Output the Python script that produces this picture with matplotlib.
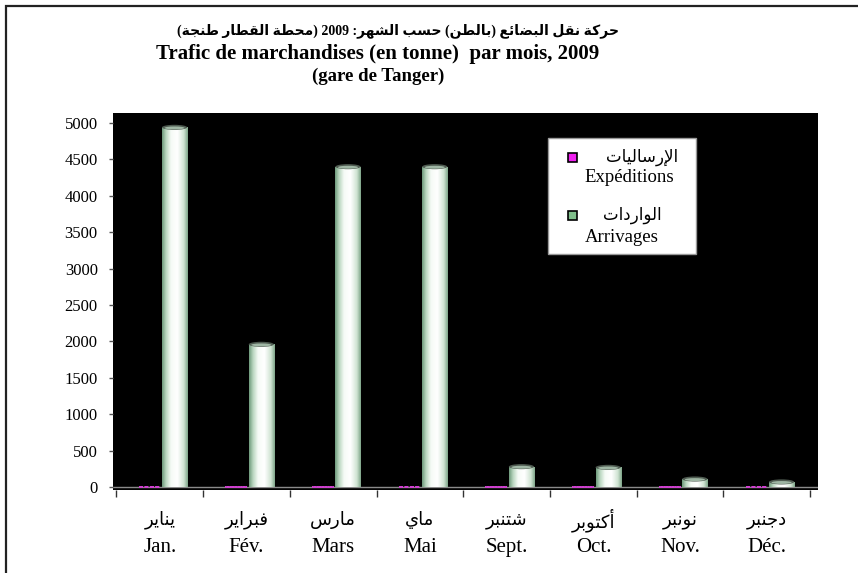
import re
import numpy as np
import matplotlib
matplotlib.use('Agg')
import matplotlib.pyplot as plt
from matplotlib.colors import LinearSegmentedColormap
from matplotlib.patches import Rectangle, Ellipse
from matplotlib.transforms import blended_transform_factory

# ---------------------------------------------------------------
# DATA
months_ar = ['يناير', 'فبراير', 'مارس', 'ماي', 'شتنبر', 'أكتوبر', 'نونبر', 'دجنبر']
months_fr = ['Jan.', 'Fév.', 'Mars', 'Mai', 'Sept.', 'Oct.', 'Nov.', 'Déc.']
expeditions = [0, 0, 0, 0, 0, 0, 0, 0]
arrivages = [4940, 1960, 4400, 4400, 280, 270, 110, 70]
yticks = [0, 500, 1000, 1500, 2000, 2500, 3000, 3500, 4000, 4500, 5000]

title_ar = 'حركة نقل البضائع (بالطن) حسب الشهر: 2009 (محطة القطار طنجة)'
title_fr = 'Trafic de marchandises (en tonne)  par mois, 2009'
title_gare = '(gare de Tanger)'
legend_ar = ['الإرساليات', 'الواردات']
legend_fr = ['Expéditions', 'Arrivages']

# ---------------------------------------------------------------
# Arabic shaping: matplotlib draws glyphs one by one, so pick the
# contextual presentation forms and lay the line out right to left
AR_LETTERS = 'ءآأؤإئابةتثجحخدذرزسشصضطظعغفقكلمنهوىي'
AR_NFORMS = [1, 2, 2, 2, 2, 4, 2, 4, 2, 4, 4, 4, 4, 4, 2, 2, 2, 2,
             4, 4, 4, 4, 4, 4, 4, 4, 4, 4, 4, 4, 4, 4, 4, 2, 2, 4]
FORMS = {}
_cp = 0xFE80
for _ch, _n in zip(AR_LETTERS, AR_NFORMS):
    FORMS[_ch] = [chr(_cp + k) for k in range(_n)]
    _cp += _n
LAM_ALEF = {'آ': 0xFEF5, 'أ': 0xFEF7, 'إ': 0xFEF9, 'ا': 0xFEFB}


def dual(c):
    return c in FORMS and len(FORMS[c]) == 4


def ar(text):
    out = []
    i = 0
    while i < len(text):
        c = text[i]
        if c not in FORMS:
            out.append(c)
            i += 1
            continue
        prev = text[i - 1] if i > 0 else ''
        nxt = text[i + 1] if i + 1 < len(text) else ''
        lp = dual(prev)
        if c == 'ل' and nxt in LAM_ALEF:
            out.append(chr(LAM_ALEF[nxt] + (1 if lp else 0)))
            i += 2
            continue
        f = FORMS[c]
        ln = len(f) == 4 and nxt in FORMS
        if len(f) == 1:
            g = f[0]
        elif lp and ln:
            g = f[3]
        elif lp:
            g = f[1]
        elif ln:
            g = f[2]
        else:
            g = f[0]
        out.append(g)
        i += 1
    s = ''.join(out)[::-1]
    s = re.sub(r'[0-9]+', lambda m: m.group()[::-1], s)
    return s.translate(str.maketrans('()', ')('))


# ---------------------------------------------------------------
# PLOT
W, H = 858, 573
fig = plt.figure(figsize=(W / 100, H / 100), dpi=100)
fig.patch.set_facecolor('white')

# axes box in pixels: x 113..818, y 113..490
ax = fig.add_axes([113 / W, 1 - 490 / H, 705 / W, 377 / H])
ax.set_facecolor('black')
ax.set_xlim(-0.54, 7.59)
ax.set_ylim(-41, 5137)

x = np.arange(len(months_fr))
ax.axhline(0, color='#8a8a8a', lw=1.0, zorder=1)

# Expéditions: flat bars lying on the floor
ax.bar(x - 0.12, expeditions, width=0.25, color='#e020e0',
       edgecolor='#d040d0', linestyle=(0, (2, 1)), linewidth=1.3, zorder=2)

# Arrivages: shaded cylinders
cyl = LinearSegmentedColormap.from_list('cyl', [
    (0.0, '#6f9a7c'), (0.15, '#b9d6bf'), (0.35, '#f6fbf6'),
    (0.6, '#ffffff'), (0.85, '#cfe3d2'), (1.0, '#7fa68a')])
grad = np.linspace(0, 1, 64).reshape(1, -1)
bw = 0.29
bars = ax.bar(x + 0.17, arrivages, width=bw, color='none', zorder=3)
for b, v in zip(bars, arrivages):
    x0 = b.get_x()
    im = ax.imshow(grad, cmap=cyl, aspect='auto', zorder=3,
                   extent=(x0, x0 + bw, 0, v), interpolation='bilinear')
    im.set_clip_path(b)
    ax.add_patch(Ellipse((x0 + bw / 2, v), bw, 70, facecolor='#4e5a50',
                         edgecolor='none', zorder=4))
    ax.add_patch(Ellipse((x0 + bw / 2, v - 8), bw * 0.8, 40,
                         facecolor='#9fb6a4', edgecolor='none', zorder=4))

ax.set_xticks(np.arange(-0.5, 8.0, 1.0))
ax.set_xticklabels([])
ax.tick_params(axis='x', direction='out', length=5, color='#333333', width=1)
ax.set_yticks(yticks)
ax.set_yticklabels([str(t) for t in yticks], fontsize=12,
                   family='Liberation Serif')
ax.tick_params(axis='y', direction='out', length=3, color='#555555',
               width=1, pad=8)
for sp in ax.spines.values():
    sp.set_visible(False)

# month labels, Arabic above French
tr = blended_transform_factory(ax.transData, ax.transAxes)
for i in x:
    ax.text(i, -0.08, ar(months_ar[i]), transform=tr, ha='center',
            va='center', fontsize=13, family='DejaVu Sans')
    ax.text(i, -0.152, months_fr[i], transform=tr, ha='center',
            va='center', fontsize=15, family='Liberation Serif')

# legend box
ax.add_patch(Rectangle((0.617, 0.626), 0.21, 0.308, transform=ax.transAxes,
                       facecolor='white', edgecolor='#999999', lw=1,
                       zorder=5))
mw, mh = 9 / 705, 9 / 377
ax.add_patch(Rectangle((0.652 - mw / 2, 0.883 - mh / 2), mw, mh,
                       transform=ax.transAxes, facecolor='#f020f0',
                       edgecolor='black', lw=1.2, zorder=6))
ax.add_patch(Rectangle((0.652 - mw / 2, 0.729 - mh / 2), mw, mh,
                       transform=ax.transAxes, facecolor='#7fbf8a',
                       edgecolor='black', lw=1.2, zorder=6))
ax.text(0.750, 0.883, ar(legend_ar[0]), transform=ax.transAxes, ha='center',
        va='center', fontsize=12, family='DejaVu Sans', zorder=7)
ax.text(0.733, 0.828, legend_fr[0], transform=ax.transAxes, ha='center',
        va='center', fontsize=13.5, family='Liberation Serif', zorder=7)
ax.text(0.736, 0.729, ar(legend_ar[1]), transform=ax.transAxes, ha='center',
        va='center', fontsize=12, family='DejaVu Sans', zorder=7)
ax.text(0.722, 0.671, legend_fr[1], transform=ax.transAxes, ha='center',
        va='center', fontsize=13.5, family='Liberation Serif', zorder=7)

# titles
fig.text(398 / W, 1 - 31 / H, ar(title_ar), ha='center', va='center',
         fontsize=10, fontweight='bold',
         family=['Liberation Serif', 'DejaVu Sans'])
fig.text(378 / W, 1 - 54 / H, title_fr, ha='center', va='center',
         fontsize=15, fontweight='bold', family='Liberation Serif')
fig.text(378 / W, 1 - 76 / H, title_gare, ha='center', va='center',
         fontsize=13.5, fontweight='bold', family='Liberation Serif')

# outer chart frame
fig.add_artist(Rectangle((6 / W, -0.1), 1.1, 1 - 6 / H + 0.1,
                         transform=fig.transFigure, facecolor='none',
                         edgecolor='#222222', lw=1.6))

fig.savefig('out.png', dpi=100)
